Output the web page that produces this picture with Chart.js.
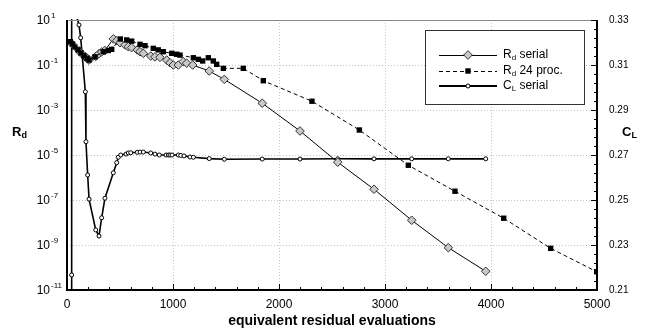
<!DOCTYPE html>
<html><head><meta charset="utf-8">
<script src="https://cdn.jsdelivr.net/npm/chart.js@4.4.1/dist/chart.umd.min.js"></script>
<style>html,body{margin:0;padding:0;background:#fff;}canvas{display:block;}</style>
</head><body>
<canvas id="c" width="649" height="330"></canvas>
<script>
// ---------------- data ----------------
const xTicks = [0, 1000, 2000, 3000, 4000, 5000];
const yLeftExponents = [1, -1, -3, -5, -7, -9, -11];
const yRightTicks = [0.21, 0.23, 0.25, 0.27, 0.29, 0.31, 0.33];

const iterRdSerial = [44, 113, 129, 173, 179, 195, 208, 271, 302, 327, 358, 437, 469, 500, 547, 578, 610, 663, 689, 720, 790, 830, 877, 941, 972, 1003, 1050, 1097, 1129, 1186, 1342, 1484, 1842, 2198, 2554, 2896, 3252, 3597, 3950];
const rdSerial = [0.89, 0.43, 0.35, 0.23, 0.22, 0.19, 0.166, 0.24, 0.32, 0.38, 0.44, 1.45, 1.2, 0.98, 0.78, 0.65, 0.59, 0.47, 0.39, 0.33, 0.25, 0.23, 0.22, 0.166, 0.126, 0.1, 0.1, 0.141, 0.12, 0.1, 0.054, 0.023, 2.0e-3, 1.17e-4, 4.8e-6, 3.0e-7, 1.26e-8, 7.6e-10, 6.8e-11];

const iterRdPar = [31, 52, 75, 104, 132, 160, 189, 208, 264, 342, 390, 422, 503, 563, 610, 689, 736, 814, 861, 908, 988, 1035, 1066, 1192, 1239, 1280, 1333, 1380, 1412, 1475, 1663, 1852, 2311, 2758, 3220, 3660, 4120, 4563, 4997];
const rdPar = [1.09, 0.86, 0.63, 0.47, 0.34, 0.25, 0.20, 0.166, 0.23, 0.39, 0.44, 0.50, 1.43, 1.3, 1.15, 0.83, 0.72, 0.55, 0.47, 0.39, 0.33, 0.30, 0.275, 0.21, 0.178, 0.151, 0.21, 0.151, 0.107, 0.071, 0.071, 0.020, 2.45e-3, 1.29e-4, 3.5e-6, 2.45e-7, 1.55e-8, 7.1e-10, 6.5e-11];

const iterCL = [44, 44, 44, 113, 129, 173, 179, 195, 208, 271, 302, 327, 358, 437, 469, 484, 507, 557, 578, 601, 663, 689, 720, 790, 830, 871, 934, 957, 972, 991, 1050, 1073, 1104, 1160, 1192, 1342, 1484, 1842, 2198, 2554, 2896, 3252, 3597, 3950];
const clSerial = [0.10, 0.2167, 0.34, 0.3278, 0.3221, 0.2981, 0.2759, 0.2611, 0.2504, 0.2367, 0.2340, 0.2421, 0.2508, 0.2621, 0.2666, 0.2690, 0.2700, 0.2704, 0.2709, 0.2710, 0.2712, 0.2713, 0.2713, 0.2709, 0.2704, 0.2700, 0.2700, 0.2700, 0.2700, 0.2700, 0.2700, 0.2698, 0.2696, 0.2691, 0.2690, 0.2684, 0.2681, 0.2682, 0.2682, 0.2683, 0.2683, 0.2683, 0.2683, 0.2683];

// ---------------- helpers ----------------
const FONT = '"Liberation Sans", Arial, Helvetica, sans-serif';
const pts = (xs, ys) => xs.map((v, i) => ({x: v, y: ys[i]}));
const gridColor = (lo, hi) => (c) => {
  if (!c.tick) return 'rgba(0,0,0,0)';
  const v = c.tick.value;
  return (Math.abs(v - lo) < 1e-15 || Math.abs(v - hi) < 1e-9 * Math.abs(hi)) ? 'rgba(0,0,0,0)' : '#c4c4c4';
};

function subText(ctx, x, y, parts) {
  // parts: [text, size, bold, dy]
  let cx = x;
  for (const [t, size, bold, dy] of parts) {
    ctx.font = (bold ? 'bold ' : '') + size + 'px ' + FONT;
    ctx.fillText(t, cx, y + dy);
    cx += ctx.measureText(t).width;
  }
}

const decor = {
  id: 'decor',
  afterDatasetsDraw(chart) {
    const {ctx, chartArea: a, scales} = chart;
    const x = scales.x, y2 = scales.y2;
    ctx.save();
    // top border (gray)
    ctx.strokeStyle = '#8a8a8a'; ctx.lineWidth = 1;
    ctx.beginPath(); ctx.moveTo(a.left, a.top + 0.5); ctx.lineTo(a.right, a.top + 0.5); ctx.stroke();
    // axes
    ctx.strokeStyle = '#000'; ctx.lineWidth = 2;
    ctx.beginPath();
    ctx.moveTo(a.left, a.top); ctx.lineTo(a.left, a.bottom);
    ctx.lineTo(a.right, a.bottom); ctx.lineTo(a.right, a.top);
    ctx.stroke();
    // x ticks (inward)
    ctx.lineWidth = 1;
    ctx.beginPath();
    for (let k = 0; k <= 25; k++) {
      const v = k * 200;
      const px = Math.round(x.getPixelForValue(v)) + 0.5;
      const len = (k % 5 === 0) ? 6 : 3;
      ctx.moveTo(px, a.bottom); ctx.lineTo(px, a.bottom - len);
    }
    // right ticks (inward)
    for (let k = 0; k <= 30; k++) {
      const v = 0.21 + k * 0.004;
      const py = Math.round(y2.getPixelForValue(v)) + 0.5;
      const len = (k % 5 === 0) ? 6 : 3;
      ctx.moveTo(a.right, py); ctx.lineTo(a.right - len, py);
    }
    ctx.stroke();
    ctx.restore();
  },
  afterDraw(chart) {
    const {ctx, scales} = chart;
    const y = scales.y;
    ctx.save();
    ctx.fillStyle = '#000';
    ctx.textBaseline = 'middle';
    // left tick labels 10^n
    for (const e of yLeftExponents) {
      const py = y.getPixelForValue(Math.pow(10, e));
      ctx.font = '12px ' + FONT;
      ctx.textAlign = 'right';
      ctx.fillText('10', 50, py + 1);
      ctx.textAlign = 'left';
      ctx.font = '8px ' + FONT;
      ctx.fillText(String(e), 51, py - 4);
    }
    ctx.textAlign = 'left';
    // axis titles
    subText(ctx, 12, 132, [['R', 13, true, 0], ['d', 9, true, 4]]);
    subText(ctx, 622, 132, [['C', 13, true, 0], ['L', 9, true, 4]]);
    // legend box
    const bx = 425.5, by = 30.5, bw = 159, bh = 74;
    ctx.fillStyle = '#fff';
    ctx.fillRect(bx, by, bw, bh);
    ctx.strokeStyle = '#333'; ctx.lineWidth = 1;
    ctx.strokeRect(bx, by, bw, bh);
    const lx0 = 439, lx1 = 497, mx = 468, tx = 503;
    const rows = [55, 71, 86];
    // row 1: Rd serial
    ctx.strokeStyle = '#000'; ctx.lineWidth = 1; ctx.setLineDash([]);
    ctx.beginPath(); ctx.moveTo(lx0, rows[0] + 0.5); ctx.lineTo(lx1, rows[0] + 0.5); ctx.stroke();
    ctx.beginPath();
    ctx.moveTo(mx, rows[0] - 4.3); ctx.lineTo(mx + 4.3, rows[0]); ctx.lineTo(mx, rows[0] + 4.3); ctx.lineTo(mx - 4.3, rows[0]); ctx.closePath();
    ctx.fillStyle = '#c8c8c8'; ctx.fill(); ctx.strokeStyle = '#333'; ctx.stroke();
    // row 2: Rd 24 proc
    ctx.strokeStyle = '#000'; ctx.setLineDash([4, 3]);
    ctx.beginPath(); ctx.moveTo(lx0, rows[1] + 0.5); ctx.lineTo(lx1, rows[1] + 0.5); ctx.stroke();
    ctx.setLineDash([]);
    ctx.fillStyle = '#000'; ctx.fillRect(mx - 2.7, rows[1] - 2.7, 5.4, 5.4);
    // row 3: CL serial
    ctx.lineWidth = 1.8;
    ctx.beginPath(); ctx.moveTo(lx0, rows[2]); ctx.lineTo(lx1, rows[2]); ctx.stroke();
    ctx.lineWidth = 1;
    ctx.beginPath(); ctx.arc(mx, rows[2], 2, 0, Math.PI * 2);
    ctx.fillStyle = '#fff'; ctx.fill(); ctx.strokeStyle = '#000'; ctx.stroke();
    ctx.fillStyle = '#000';
    subText(ctx, tx, rows[0], [['R', 12, false, 0], ['d', 8, false, 3], [' serial', 12, false, 0]]);
    subText(ctx, tx, rows[1], [['R', 12, false, 0], ['d', 8, false, 3], [' 24 proc.', 12, false, 0]]);
    subText(ctx, tx, rows[2], [['C', 12, false, 0], ['L', 8, false, 3], [' serial', 12, false, 0]]);
    ctx.restore();
  }
};

new Chart(document.getElementById('c'), {
  type: 'line',
  data: {
    datasets: [
      {
        label: 'Rd 24 proc.', data: pts(iterRdPar, rdPar), yAxisID: 'y',
        borderColor: '#000', borderWidth: 1, borderDash: [4, 3],
        pointStyle: 'rect', pointRadius: 3.8, pointBackgroundColor: '#000', pointBorderColor: '#000', pointBorderWidth: 0,
        tension: 0, fill: false, order: 1
      },
      {
        label: 'Rd serial', data: pts(iterRdSerial, rdSerial), yAxisID: 'y',
        borderColor: '#000', borderWidth: 1,
        pointStyle: 'rectRot', pointRadius: 4.3, pointBackgroundColor: '#c8c8c8', pointBorderColor: '#333', pointBorderWidth: 1,
        tension: 0, fill: false, order: 2
      },
      {
        label: 'CL serial', data: pts(iterCL, clSerial), yAxisID: 'y2',
        borderColor: '#000', borderWidth: 1.6,
        pointStyle: 'circle', pointRadius: 2, pointBackgroundColor: '#fff', pointBorderColor: '#000', pointBorderWidth: 1,
        tension: 0, fill: false, order: 3, clip: 1
      }
    ]
  },
  options: {
    responsive: false, animation: false, events: [],
    devicePixelRatio: 1,
    layout: {padding: {top: 20, left: 0, right: 0, bottom: 0}},
    plugins: {legend: {display: false}, tooltip: {enabled: false}},
    scales: {
      x: {
        type: 'linear', min: 0, max: 5000,
        afterBuildTicks: s => { s.ticks = xTicks.map(v => ({value: v})); },
        afterFit: s => { s.height = 40; },
        ticks: {autoSkip: false, maxRotation: 0, padding: 7, color: '#000', font: {family: FONT, size: 12}, callback: v => String(v)},
        grid: {drawTicks: false, color: gridColor(0, 5000), lineWidth: 1},
        border: {display: false, dash: [1, 2]},
        title: {display: true, text: 'equivalent residual evaluations', color: '#000', font: {family: FONT, size: 14, weight: 'bold'}, padding: {top: 0, bottom: 0}}
      },
      y: {
        type: 'logarithmic', position: 'left', min: 1e-11, max: 10,
        afterBuildTicks: s => { s.ticks = yLeftExponents.map(e => ({value: Math.pow(10, e)})); },
        afterFit: s => { s.width = 67; },
        ticks: {display: false},
        grid: {drawTicks: false, color: gridColor(1e-11, 10), lineWidth: 1},
        border: {display: false, dash: [1, 2]}
      },
      y2: {
        type: 'linear', position: 'right', min: 0.21, max: 0.33,
        afterBuildTicks: s => { s.ticks = yRightTicks.map(v => ({value: v})); },
        afterFit: s => { s.width = 52; },
        ticks: {padding: 12, color: '#000', font: {family: FONT, size: 10}, callback: v => v.toFixed(2)},
        grid: {drawTicks: false, drawOnChartArea: false},
        border: {display: false}
      }
    }
  },
  plugins: [decor]
});
</script>
</body></html>
